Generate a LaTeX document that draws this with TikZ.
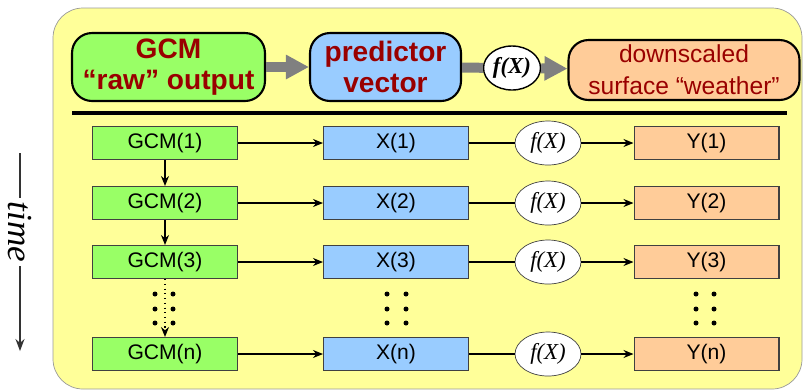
\documentclass[tikz,border=0pt]{standalone}
\usepackage{fontspec}
\setmainfont{Liberation Sans}
\newfontfamily\timesfont{Liberation Serif}
\usetikzlibrary{arrows.meta,
           shapes.geometric}
\definecolor{gcmgreen}{RGB}{153,255,102}
\definecolor{predblue}{RGB}{153,204,255}
\definecolor{outorange}{RGB}{255,204,153}
\definecolor{bgyellow}{RGB}{255,255,153}
\definecolor{darkred}{RGB}{153,0,0}
\tikzset{
  bigbox/.style={draw, line width=1.2pt, rounded corners=0.4cm, align=center,
    inner sep=0pt, text=darkred},
  rowbox/.style={draw=black!75, line width=0.6pt, minimum width=2.9cm,
    minimum height=0.66cm, inner sep=0pt, font=\fontsize{12}{14}\selectfont},
  fxnode/.style={ellipse, draw=black!75, fill=white, minimum width=1.32cm,
    minimum height=0.88cm, inner sep=0pt, font=\fontsize{13}{15}\selectfont\timesfont\itshape},
  fatarrow/.style={draw=gray, line width=0.2cm, -{Triangle[length=0.46cm,width=0.46cm]}},
  thinarrow/.style={line width=0.7pt, -{Stealth[length=0.2cm,width=0.16cm]}}
}

\begin{document}
\begin{tikzpicture}[x=0.02cm,y=-0.02cm]
\useasboundingbox(0,0)rectangle(803,390);
\draw[draw=black!40, fill=bgyellow, rounded corners=0.6cm](53,8)rectangle(802,389);
% top row
\node[bigbox, fill=gcmgreen, minimum width=3.86cm, minimum height=1.36cm,
  font=\fontsize{16}{17.5}\selectfont\bfseries] (raw) at (168.5,67) {GCM\\“raw” output};
\node[bigbox, fill=predblue, minimum width=3.02cm, minimum height=1.36cm,
  font=\fontsize{16}{17.5}\selectfont\bfseries] (pred) at (385.5,67) {predictor\\vector};
\node[fxnode, draw=black, line width=0.8pt, minimum width=1.14cm,
  font=\fontsize{13}{15}\selectfont\timesfont\bfseries\itshape] (fxtop) at (512,68) {f(X)};
\node[bigbox, fill=outorange, minimum width=4.62cm, minimum height=1.2cm,
  font=\fontsize{14}{18}\selectfont] (down) at (684,70) {downscaled\\surface ``weather''};
\draw[fatarrow](raw)--(pred);
\draw[draw=gray, line width=0.2cm](pred)--(fxtop);
\draw[fatarrow](fxtop)--(down);
\draw[line width=2.3pt](72,113)--(787,113);
% rows in time
\foreach \i/\y/\lab in {1/143/1,2/203/2,3/262/3,4/354/n} {
\node[rowbox, fill=gcmgreen] (gcm\i) at (165,\y) {GCM(\lab)};
\node[rowbox, fill=predblue] (x\i) at (396,\y) {X(\lab)};
\node[fxnode] (fx\i) at (548,\y) {f(X)};
\node[rowbox, fill=outorange] (y\i) at (706.5,\y) {Y(\lab)};
\draw[thinarrow](gcm\i)--(x\i);
\draw[line width=0.7pt](x\i)--(fx\i);
\draw[thinarrow](fx\i)--(y\i);}
\draw[thinarrow](gcm1)--(gcm2);
\draw[thinarrow](gcm2)--(gcm3);
\draw[thinarrow, dotted](gcm3)--(gcm4);
\foreach \x in {155,173,387,406,696,714}
\foreach \y in {294,309,323}
\fill(\x,\y)circle(0.05cm);
% time axis
\node[rotate=-90, inner sep=2pt, font=\fontsize{20}{22}\selectfont\timesfont\itshape] (time) at (20,232) {time};
\coordinate (timetop) at (20,153);
\coordinate (timeend) at (20,351);
\draw[line width=0.8pt, black!80](timetop)--(time.west);
\draw[line width=0.8pt, black!80, -{Stealth[length=0.24cm,width=0.18cm]}](time.east)--(timeend);
\end{tikzpicture}
\end{document}
